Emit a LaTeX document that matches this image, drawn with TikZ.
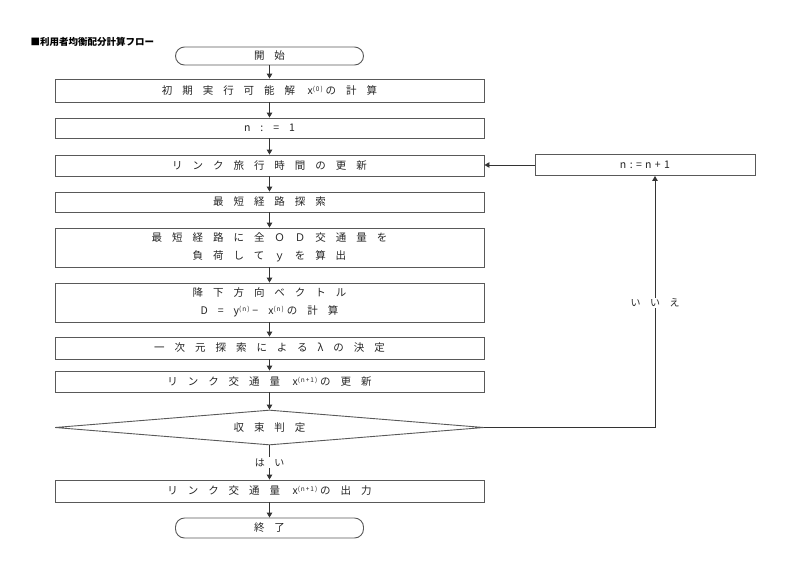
\documentclass[tikz,border=0pt]{standalone}
\usepackage{fontspec}
\setmainfont{Noto Sans CJK JP}[LetterSpace=95]
\newfontfamily\titlefont{Noto Sans CJK JP}
\newfontfamily\supfont{Noto Sans CJK JP}[LetterSpace=15]
\newfontfamily\latfont{Noto Sans CJK JP}[LetterSpace=32]
\usetikzlibrary{shapes.geometric,arrows.meta}
\newcommand\supx[1]{\raisebox{0.6ex}{\supfont\fontsize{6.5}{7}\selectfont #1}\hspace{3pt}}
\begin{document}
\begin{tikzpicture}[x=1pt,y=-1pt,
  box/.style={draw=black!65, line width=0.9pt, minimum width=429pt, inner sep=0pt,
    align=center, font=\fontsize{10.5}{18.5}\selectfont, text=black!85},
  term/.style={box, rounded corners=9pt, minimum width=188pt},
  dia/.style={draw=black!65, line width=0.9pt, diamond, aspect=12.26, minimum width=429pt,
    minimum height=35pt, inner sep=0pt, font=\fontsize{10.5}{12}\selectfont, text=black!85},
  arr/.style={-{Triangle[length=5pt,width=5.5pt]}, line width=0.9pt, draw=black!80},
  lab/.style={fill=white, inner sep=1pt, font=\fontsize{10}{12}\selectfont, text=black!85}]
\path[use as bounding box, fill=white] (0,0) rectangle (796,582);

\node[anchor=west, font=\titlefont\bfseries\fontsize{9.5}{11}\selectfont] (title) at (27,42) {■利用者均衡配分計算フロー};

\node[term, minimum height=18pt] (start) at (269.5,56) {開始};
\node[box, minimum height=23pt] (b1) at (269.5,90.5) {初期実行可能解 x\supx{(0)}の計算};
\node[box, minimum height=20pt] (b2) at (269.5,128) {n:=1};
\node[box, minimum height=21pt] (b3) at (269.5,165.5) {リンク旅行時間の更新};
\node[box, minimum height=20pt] (b4) at (269.5,202) {最短経路探索};
\node[box, minimum height=39pt] (b5) at (269.5,247.5) {最短経路に全ＯＤ交通量を\\負荷してｙを算出};
\node[box, minimum height=39pt] (b6) at (269.5,302.5) {降下方向ベクトル\\D=y\supx{(n)}−x\supx{(n)}の計算};
\node[box, minimum height=22pt] (b7) at (269.5,348) {一次元探索によるλの決定};
\node[box, minimum height=21pt] (b8) at (269.5,381.5) {リンク交通量 x\supx{(n+1)}の更新};
\node[dia] (d) at (269.5,427.5) {収束判定};
\node[box, minimum height=22pt] (b9) at (269.5,491) {リンク交通量 x\supx{(n+1)}の出力};
\node[term, minimum height=20pt] (end) at (269.5,528) {終了};
\node[box, minimum width=220pt, minimum height=21pt] (n1) at (645,165) {\latfont n:=n+1};

\draw[arr] (start) -- (b1);
\draw[arr] (b1) -- (b2);
\draw[arr] (b2) -- (b3);
\draw[arr] (b3) -- (b4);
\draw[arr] (b4) -- (b5);
\draw[arr] (b5) -- (b6);
\draw[arr] (b6) -- (b7);
\draw[arr] (b7) -- (b8);
\draw[arr] (b8) -- (d.north);
\draw[arr] (d.south) -- node[lab] (yes) {はい} (b9);
\draw[arr] (b9) -- (end);

\coordinate (c1) at (655,427.5);
\draw[arr] (d.east) -- (c1) -- node[lab, pos=0.495] (no) {いいえ} (c1 |- n1.south);
\draw[arr] (n1.west) -- (n1.west -| b3.east);
\end{tikzpicture}
\end{document}
